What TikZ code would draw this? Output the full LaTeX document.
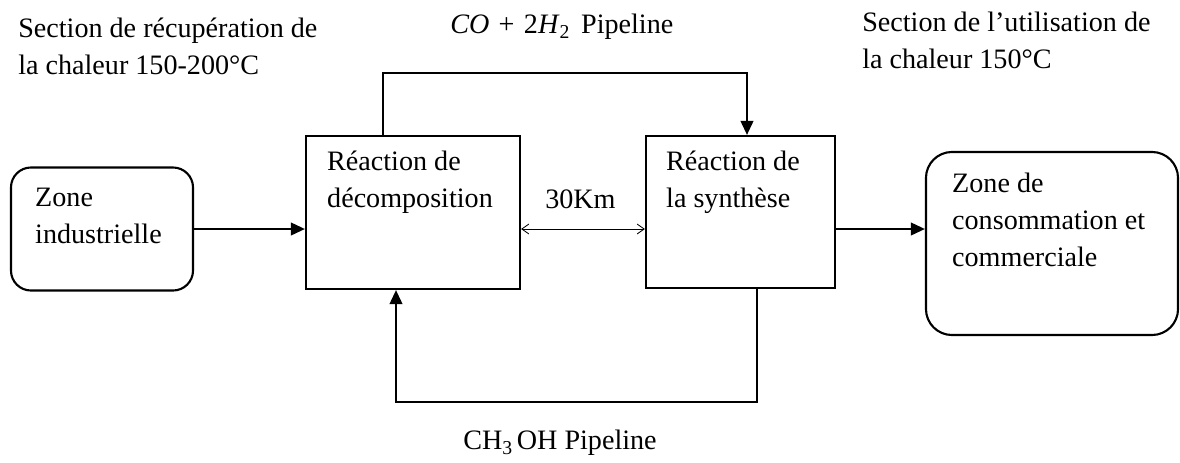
\documentclass[tikz,border=0pt]{standalone}
\usepackage{fontspec}
\setmainfont{Liberation Serif}
\usepackage{tikz}
\usetikzlibrary{positioning,arrows.meta}

\newcommand{\lowsub}[1]{\raisebox{-4pt}{\fontsize{14}{14}\selectfont #1}}

\begin{document}
\begin{tikzpicture}[
  x=0.025cm, y=-0.025cm,
  txt/.style={font=\fontsize{20}{26.3}\selectfont, inner sep=0pt, align=left, anchor=base west},
  blk/.style={rectangle, draw, line width=1.5pt, inner sep=0pt},
  zone/.style={blk, rounded corners=0.5cm},
  pipe/.style={line width=1.5pt, -{Triangle[length=10pt,width=9pt]}},
  dist/.style={line width=0.6pt, {Straight Barb[length=5pt,width=7pt]}-{Straight Barb[length=5pt,width=7pt]}},
]
\useasboundingbox (0,0) rectangle (1180,462);

% Blocks
\node[zone, minimum width=4.55cm, minimum height=3.075cm] (zi) at (102,229) {};
\node[blk, minimum width=5.35cm, minimum height=3.825cm] (dec) at (413,212.5) {};
\node[blk, minimum width=4.725cm, minimum height=3.8cm] (syn) at (740.5,212) {};
\node[zone, rounded corners=0.65cm, minimum width=6.3cm, minimum height=4.575cm] (zc) at (1052,243.5) {};

% Block texts (base = last line)
\node[txt] (zi-t) at ([shift={(25,77)}]zi.north west) {Zone\\industrielle};
\node[txt] (dec-t) at ([shift={(22,73)}]dec.north west) {Réaction de\\décomposition};
\node[txt] (syn-t) at ([shift={(21,73)}]syn.north west) {Réaction de\\la synthèse};
\node[txt] (zc-t) at ([shift={(27,116)}]zc.north west) {Zone de\\consommation et\\commerciale};

% Section labels
\node[txt] (rec) at (18,74) {Section de récupération de\\la chaleur 150-200°C};
\node[txt] (uti) at (862,68) {Section de l’utilisation de\\la chaleur 150°C};
\node[txt] (gas) at (450,33) {\textit{CO}\,\,+\,\,2\textit{H}\lowsub{2}\, Pipeline};
\node[txt] (km) at (545,208) {30Km};
\node[txt] (meth) at (463,449) {CH\lowsub{3}\,OH Pipeline};

% Pipelines
\coordinate (ptl) at (383,73);
\coordinate (ptr) at (747,73);
\coordinate (pbr) at (757,402);
\coordinate (pbl) at (396,402);
\draw[pipe] (ptl |- dec.north) -- (ptl) -- (ptr) -- (ptr |- syn.north);
\draw[pipe] (pbr |- syn.south) -- (pbr) -- (pbl) -- (pbl |- dec.south);

% Flows
\draw[pipe] (zi.east) -- (zi.east -| dec.west);
\draw[pipe] (syn.east |- zi.east) -- (zi.east -| zc.west);
\draw[dist] (dec.east |- zi.east) -- (syn.west |- zi.east);

\end{tikzpicture}
\end{document}
